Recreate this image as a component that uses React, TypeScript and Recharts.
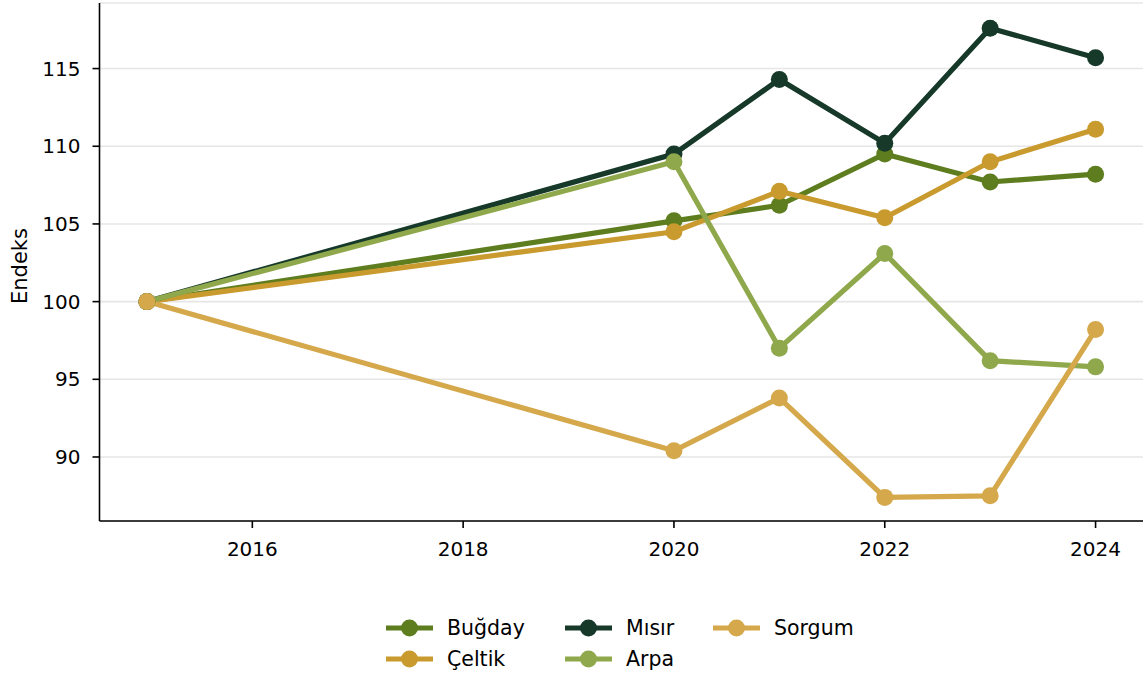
import React from "react";
import { LineChart, Line, XAxis, YAxis, CartesianGrid } from "recharts";

const years = [2015, 2020, 2021, 2022, 2023, 2024];
const bugday = [100, 105.2, 106.2, 109.5, 107.7, 108.2];
const celtik = [100, 104.5, 107.1, 105.4, 109.0, 111.1];
const misir = [100, 109.5, 114.3, 110.2, 117.6, 115.7];
const arpa = [100, 109.0, 97.0, 103.1, 96.2, 95.8];
const sorgum = [100, 90.4, 93.8, 87.4, 87.5, 98.2];

const xTicks = [2016, 2018, 2020, 2022, 2024];
const yTicks = [90, 95, 100, 105, 110, 115];

const seriesDefs = [
  { key: "bugday", name: "Buğday", color: "#5e7d1f", values: bugday },
  { key: "celtik", name: "Çeltik", color: "#c99a2e", values: celtik },
  { key: "misir", name: "Mısır", color: "#16392a", values: misir },
  { key: "arpa", name: "Arpa", color: "#8fa84b", values: arpa },
  { key: "sorgum", name: "Sorgum", color: "#d4a84b", values: sorgum },
];

const data = years.map((y, i) => {
  const row: Record<string, number> = { year: y };
  seriesDefs.forEach((s) => (row[s.key] = s.values[i]));
  return row;
});

const FONT = "DejaVu Sans";

const legendCols = [
  { x: 386, items: [0, 1] },
  { x: 565, items: [2, 3] },
  { x: 713, items: [4] },
];
const legendRows = [628, 659];

export default function App() {
  return (
    <div style={{ position: "absolute", left: 0, top: 0, width: 1146, height: 674, background: "#fff", fontFamily: FONT }}>
      <LineChart
        width={1146}
        height={674}
        data={data}
        margin={{ top: 3, right: 3, left: 0, bottom: 0 }}
      >
        <CartesianGrid vertical={false} stroke="#e6e6e6" strokeWidth={1.6} />
        <XAxis
          dataKey="year"
          type="number"
          domain={[2014.55, 2024.45]}
          allowDataOverflow
          ticks={xTicks}
          height={153}
          tickSize={7}
          tickMargin={14}
          axisLine={{ stroke: "#000", strokeWidth: 1.6 }}
          tickLine={{ stroke: "#000", strokeWidth: 1.6 }}
          tick={{ fill: "#000", fontSize: 20, fontFamily: FONT }}
        />
        <YAxis
          type="number"
          domain={[85.88, 119.22]}
          allowDataOverflow
          ticks={yTicks}
          width={99.5}
          tickSize={7}
          tickMargin={12}
          axisLine={{ stroke: "#000", strokeWidth: 1.6 }}
          tickLine={{ stroke: "#000", strokeWidth: 1.6 }}
          tick={{ fill: "#000", fontSize: 20, fontFamily: FONT }}
          label={{
            value: "Endeks",
            angle: -90,
            position: "insideLeft",
            offset: 20,
            dy: 4,
            style: { fill: "#000", fontSize: 21, fontFamily: FONT, textAnchor: "middle" },
          }}
        />
        {seriesDefs.map((s) => (
          <Line
            key={s.key}
            dataKey={s.key}
            name={s.name}
            type="linear"
            stroke={s.color}
            strokeWidth={5.2}
            dot={{ r: 8.5, fill: s.color, stroke: "none" }}
            activeDot={false}
            isAnimationActive={false}
          />
        ))}
      </LineChart>
      <svg width={1146} height={674} style={{ position: "absolute", left: 0, top: 0, pointerEvents: "none" }}>
        {legendCols.map((col) =>
          col.items.map((idx, ri) => {
            const s = seriesDefs[idx];
            const y = legendRows[ri];
            return (
              <g key={s.key}>
                <line x1={col.x} x2={col.x + 47} y1={y} y2={y} stroke={s.color} strokeWidth={5.2} />
                <circle cx={col.x + 23.5} cy={y} r={8.5} fill={s.color} />
                <text x={col.x + 61} y={y} dominantBaseline="central" fontSize={20.5} fontFamily={FONT} fill="#000">
                  {s.name}
                </text>
              </g>
            );
          })
        )}
      </svg>
    </div>
  );
}
